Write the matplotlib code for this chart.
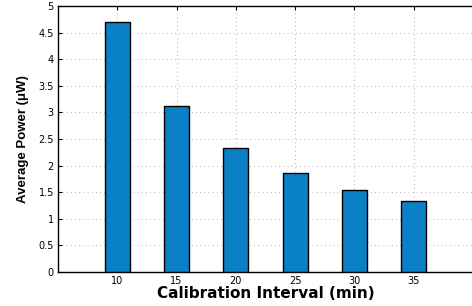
import matplotlib
matplotlib.use("Agg")
import matplotlib.pyplot as plt

intervals = [10, 15, 20, 25, 30, 35]
power = [4.70, 3.12, 2.34, 1.87, 1.55, 1.33]
yticks = [0, 0.5, 1, 1.5, 2, 2.5, 3, 3.5, 4, 4.5, 5]
yticklabels = ["0", "0.5", "1", "1.5", "2", "2.5", "3", "3.5", "4", "4.5", "5"]

plt.rcParams['font.family'] = ['Liberation Sans', 'DejaVu Sans']

fig = plt.figure(figsize=(4.72, 3.06), dpi=100)
ax = fig.add_axes([58/472, (306-272)/306, 1.0 - 58/472 + 0.002, (272-6)/306])
ax.bar(intervals, power, width=2.1, color='#0A80C6', edgecolor='black', linewidth=1.0, zorder=3)
ax.set_xlim(5, 40)
ax.set_ylim(0, 5)
ax.set_xticks(intervals)
ax.set_xticklabels([str(v) for v in intervals], fontsize=7, family='DejaVu Sans')
ax.set_yticks(yticks)
ax.set_yticklabels(yticklabels, fontsize=7, family='DejaVu Sans')
ax.grid(True, linestyle=(0, (1, 4)), color='#999999', linewidth=0.6, zorder=0)
ax.tick_params(direction='in', length=3, width=0.8, top=True, right=False, pad=3)
for s in ['left', 'bottom', 'top']:
    ax.spines[s].set_linewidth(1.0)
ax.spines['right'].set_visible(False)
ax.set_xlabel('Calibration Interval (min)', fontsize=11, fontweight='bold',
              family='DejaVu Sans', labelpad=0)
ax.set_ylabel('Average Power (μW)', fontsize=9.5, fontweight='bold', labelpad=7)
fig.savefig('out.png', dpi=100)
